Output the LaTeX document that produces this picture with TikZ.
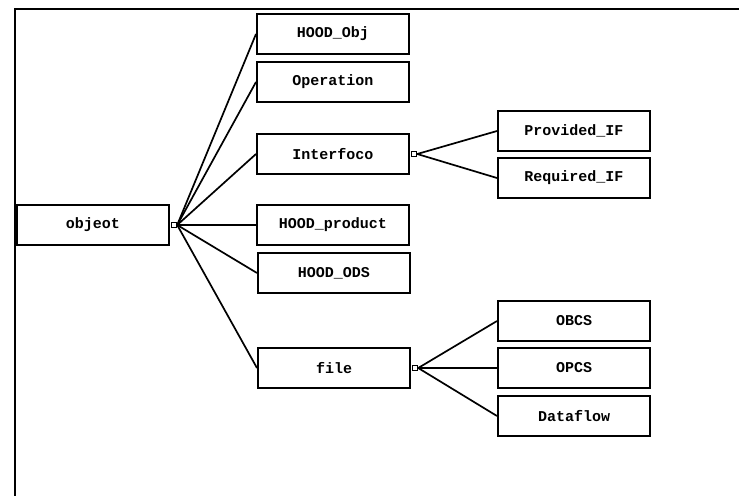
\documentclass[tikz,border=0pt]{standalone}
\usepackage{fontspec}
\setmonofont{Liberation Mono}
\usepackage{tikz}
\usetikzlibrary{positioning}

\begin{document}
\begin{tikzpicture}[x=1pt,y=-1pt,
    classbox/.style={draw,line width=2pt,minimum width=152pt,minimum height=40pt,inner sep=0pt,font=\fontsize{15}{18}\selectfont\ttfamily\bfseries},
    junction/.style={draw,fill=white,line width=1.2pt,minimum size=5pt,inner sep=0pt,anchor=west},
    link/.style={line width=1.7pt}]
    \useasboundingbox (0,0) rectangle (739,496);

    % Rahmen
    \draw[line width=2.5pt] (739,9) -- (15,9) -- (15,496);

    % Wurzel
    \node[classbox] (objeot) at (93,225) {objeot};

    % erste Ebene
    \node[classbox] (hoodobj) at (333,34) {HOOD\_Obj};
    \node[classbox] (operation) at (333,82) {Operation};
    \node[classbox] (interface) at (333,154) {Interfoco};
    \node[classbox] (hoodproduct) at (333,225) {HOOD\_product};
    \node[classbox] (hoodods) at (334,273) {HOOD\_ODS};
    \node[classbox] (file) at (334,368) {file};

    % zweite Ebene
    \node[classbox] (provided) at (574,131) {Provided\_IF};
    \node[classbox] (required) at (574,178) {Required\_IF};
    \node[classbox] (obcs) at (574,321) {OBCS};
    \node[classbox] (opcs) at (574,368) {OPCS};
    \node[classbox] (dataflow) at (574,416) {Dataflow};

    % Verbindungen
    \node[junction] (objeot-j) at ([xshift=1pt]objeot.east) {};
    \foreach \n in {hoodobj,operation,interface,hoodproduct,hoodods,file}
        \draw[link] (objeot-j.east) -- (\n.west);
    \node[junction] (interface-j) at ([xshift=1pt]interface.east) {};
    \foreach \n in {provided,required}
        \draw[link] (interface-j.east) -- (\n.west);
    \node[junction] (file-j) at ([xshift=1pt]file.east) {};
    \foreach \n in {obcs,opcs,dataflow}
        \draw[link] (file-j.east) -- (\n.west);
\end{tikzpicture}
\end{document}
